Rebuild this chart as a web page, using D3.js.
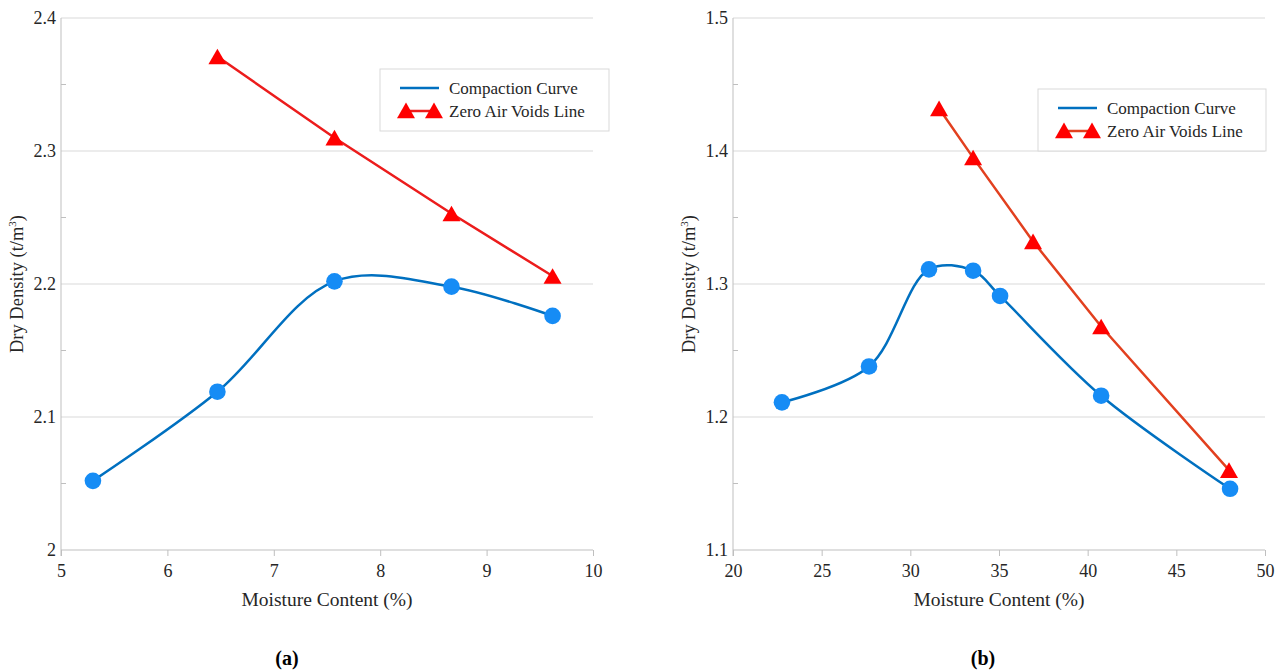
<!DOCTYPE html>
<html>
<head>
<meta charset="utf-8">
<script src="https://cdn.jsdelivr.net/npm/d3@7"></script>
</head>
<body style="margin:0; background:#fff">
<svg id="chart" width="1285" height="672" font-family="Liberation Serif"></svg>
<script>
// panel (a)
const moistureA = [5.3, 6.47, 7.57, 8.67, 9.62];
const densityA = [2.052, 2.119, 2.202, 2.198, 2.176];
const zavMoistureA = [6.47, 7.57, 8.67, 9.62];
const zavDensityA = [2.371, 2.310, 2.253, 2.206];
const xTicksA = [5, 6, 7, 8, 9, 10];
const yTicksA = [2, 2.1, 2.2, 2.3, 2.4];

// panel (b)
const moistureB = [22.76, 27.67, 31.05, 33.54, 35.06, 40.76, 48.03];
const densityB = [1.211, 1.238, 1.311, 1.310, 1.291, 1.216, 1.146];
const zavMoistureB = [31.62, 33.54, 36.92, 40.76, 47.97];
const zavDensityB = [1.432, 1.395, 1.332, 1.268, 1.160];
const xTicksB = [20, 25, 30, 35, 40, 45, 50];
const yTicksB = [1.1, 1.2, 1.3, 1.4, 1.5];

const seriesNames = ["Compaction Curve", "Zero Air Voids Line"];
const FONT = "Liberation Serif";
const INK = "#262626";

const svg = d3.select("#chart");

const drawPanel = (opts) => {
  const { left, right, top, bottom } = opts;
  const x = d3.scaleLinear().domain(d3.extent(opts.xTicks)).range([left, right]);
  const y = d3.scaleLinear().domain(d3.extent(opts.yTicks)).range([bottom, top]);
  const g = svg.append("g").attr("font-family", FONT);

  // gridlines
  g.selectAll("line.grid")
    .data(opts.yTicks.slice(1))
    .enter()
    .append("line")
    .attr("x1", left)
    .attr("x2", right)
    .attr("y1", (d) => y(d))
    .attr("y2", (d) => y(d))
    .attr("stroke", "#d9d9d9")
    .attr("stroke-width", 1);

  // minor ticks on y axis
  const step = opts.yTicks[1] - opts.yTicks[0];
  g.selectAll("line.minor")
    .data(opts.yTicks.slice(0, -1).map((d) => d + step / 2))
    .enter()
    .append("line")
    .attr("x1", left)
    .attr("x2", left + 5)
    .attr("y1", (d) => y(d))
    .attr("y2", (d) => y(d))
    .attr("stroke", "#bfbfbf");

  // x axis
  const xAxis = g
    .append("g")
    .attr("transform", `translate(0, ${bottom})`)
    .call(d3.axisBottom(x).tickValues(opts.xTicks).tickSize(6).tickPadding(8).tickFormat(d3.format("d")));
  xAxis.attr("font-family", FONT).attr("font-size", 18);
  xAxis.select(".domain").attr("stroke", "#bfbfbf").attr("d", `M${left},0H${right}`);
  xAxis.selectAll(".tick line").attr("stroke", "#bfbfbf");
  xAxis.selectAll(".tick text").attr("font-size", 18).attr("font-family", FONT).attr("fill", INK);

  // y axis
  const yAxis = g
    .append("g")
    .attr("transform", `translate(${left}, 0)`)
    .call(d3.axisLeft(y).tickValues(opts.yTicks).tickSize(0).tickPadding(5).tickFormat((d) => (d === 2 ? "2" : d3.format(".1f")(d))));
  yAxis.attr("font-family", FONT).attr("font-size", 18);
  yAxis.select(".domain").attr("stroke", "#bfbfbf").attr("d", `M0,${top}V${bottom + 6}`);
  yAxis.selectAll(".tick text").attr("font-size", 18).attr("font-family", FONT).attr("fill", INK);

  // axis titles
  g.append("text")
    .attr("x", (left + right) / 2)
    .attr("y", bottom + 56)
    .attr("text-anchor", "middle")
    .attr("font-family", FONT)
    .attr("font-size", 19.5)
    .attr("fill", INK)
    .text("Moisture Content (%)");

  const yt = g
    .append("text")
    .attr("transform", `translate(${left - 38}, ${(top + bottom) / 2}) rotate(-90)`)
    .attr("text-anchor", "middle")
    .attr("font-family", FONT)
    .attr("font-size", 18.5)
    .attr("fill", INK);
  yt.append("tspan").text("Dry Density (t/m");
  yt.append("tspan").attr("font-size", 11).attr("dy", -7).text("3");
  yt.append("tspan").attr("dy", 7).text(")");

  const comp = opts.moisture.map((m, i) => ({ x: m, y: opts.density[i] }));
  const zav = opts.zavMoisture.map((m, i) => ({ x: m, y: opts.zavDensity[i] }));

  const smooth = d3
    .line()
    .x((d) => x(d.x))
    .y((d) => y(d.y))
    .curve(d3.curveCatmullRom.alpha(0.5));
  const straight = d3
    .line()
    .x((d) => x(d.x))
    .y((d) => y(d.y));

  g.append("path")
    .attr("d", straight(zav))
    .attr("fill", "none")
    .attr("stroke", opts.zavLine)
    .attr("stroke-width", 2.5);

  g.append("path")
    .attr("d", smooth(comp))
    .attr("fill", "none")
    .attr("stroke", "#0070c0")
    .attr("stroke-width", 2.5);

  g.selectAll("circle.pt")
    .data(comp)
    .enter()
    .append("circle")
    .attr("cx", (d) => x(d.x))
    .attr("cy", (d) => y(d.y))
    .attr("r", 8.3)
    .attr("fill", "#168cf5");

  // triangle marker, box centred on the point like the spreadsheet does
  const tri = d3.symbol(d3.symbolTriangle, 140);
  g.selectAll("path.tri")
    .data(zav)
    .enter()
    .append("path")
    .attr("d", tri)
    .attr("transform", (d) => `translate(${x(d.x)}, ${y(d.y) + 2.5})`)
    .attr("fill", "#ff0000");

  // legend
  const lg = g.append("g").attr("transform", `translate(${opts.legend.x}, ${opts.legend.y})`);
  lg.append("rect")
    .attr("width", opts.legend.w)
    .attr("height", opts.legend.h)
    .attr("fill", "#fff")
    .attr("stroke", "#d9d9d9");
  const rows = [19, 42];
  lg.append("line")
    .attr("x1", 20)
    .attr("x2", 59)
    .attr("y1", rows[0])
    .attr("y2", rows[0])
    .attr("stroke", "#0070c0")
    .attr("stroke-width", 2.5);
  lg.append("line")
    .attr("x1", 26)
    .attr("x2", 54)
    .attr("y1", rows[1])
    .attr("y2", rows[1])
    .attr("stroke", opts.zavLine)
    .attr("stroke-width", 2.5);
  [26, 54].forEach((px) => {
    lg.append("path")
      .attr("d", tri)
      .attr("transform", `translate(${px}, ${rows[1] + 2})`)
      .attr("fill", "#ff0000");
  });
  seriesNames.forEach((name, i) => {
    lg.append("text")
      .attr("x", 69)
      .attr("y", rows[i])
      .attr("dy", "0.33em")
      .attr("font-family", FONT)
      .attr("font-size", 17)
      .attr("fill", INK)
      .text(name);
  });

  // panel label
  svg.append("text")
    .attr("x", opts.labelX)
    .attr("y", 665)
    .attr("text-anchor", "middle")
    .attr("font-family", FONT)
    .attr("font-size", 20)
    .attr("font-weight", "bold")
    .attr("fill", "#000")
    .text(opts.label);
};

drawPanel({
  left: 61, right: 593, top: 18, bottom: 550,
  xTicks: xTicksA, yTicks: yTicksA,
  moisture: moistureA, density: densityA,
  zavMoisture: zavMoistureA, zavDensity: zavDensityA,
  zavLine: "#ec1c1c",
  legend: { x: 380, y: 69, w: 229, h: 62 },
  label: "(a)", labelX: 287
});

drawPanel({
  left: 733, right: 1265, top: 18, bottom: 550,
  xTicks: xTicksB, yTicks: yTicksB,
  moisture: moistureB, density: densityB,
  zavMoisture: zavMoistureB, zavDensity: zavDensityB,
  zavLine: "#e2401f",
  legend: { x: 1038, y: 89, w: 228, h: 62 },
  label: "(b)", labelX: 983
});
</script>
</body>
</html>
